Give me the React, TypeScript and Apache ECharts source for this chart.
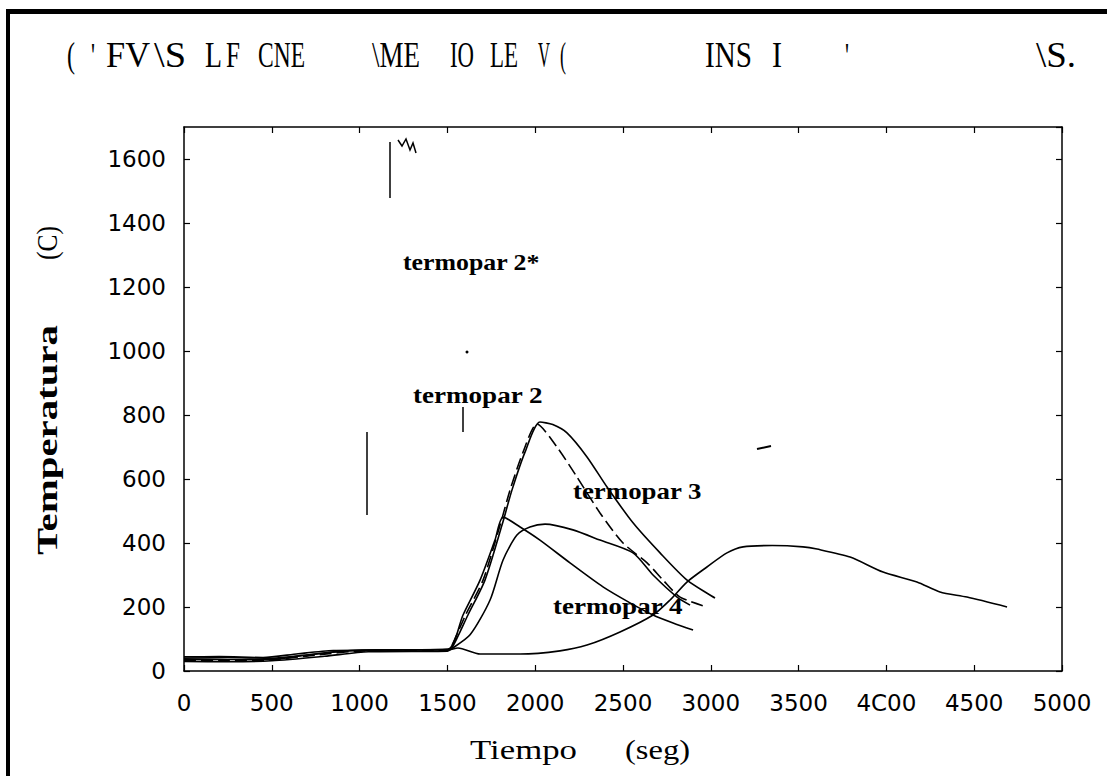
import React, { useEffect, useRef } from "react";
import * as echarts from "echarts";

// ---- axis ticks ----
const xTickValues = [0, 500, 1000, 1500, 2000, 2500, 3000, 3500, 4000, 4500, 5000];
const xTickLabels = ["0", "500", "1000", "1500", "2000", "2500", "3000", "3500", "4C00", "4500", "5000"];
const yTickValues = [0, 200, 400, 600, 800, 1000, 1200, 1400, 1600];

// ---- series (tiempo [s], temperatura [C]) ----
const tc2star = [
  [0, 40], [250, 42], [500, 40], [700, 50], [900, 62], [1200, 66], [1500, 68], [1526, 72],
  [1617, 175], [1714, 284], [1811, 456], [1868, 566], [1942, 684], [2027, 778], [2100, 770],
  [2181, 744], [2295, 669], [2409, 575], [2557, 463], [2711, 369], [2865, 284], [3024, 228],
];
const tc2 = [
  [0, 33], [250, 32], [500, 35], [750, 50], [1000, 62], [1500, 64], [1515, 68],
  [1606, 178], [1703, 284], [1800, 456], [1857, 566], [1931, 684], [2010, 772], [2124, 700],
  [2238, 606], [2369, 494], [2500, 400], [2637, 338], [2728, 284], [2825, 231], [2978, 200],
];
const tc3 = [
  [0, 44], [200, 45], [450, 42], [650, 54], [850, 64], [1200, 66], [1503, 68],
  [1589, 175], [1686, 284], [1771, 409], [1817, 481], [1914, 450], [2027, 409], [2198, 338],
  [2386, 263], [2540, 213], [2671, 175], [2785, 150], [2899, 128],
];
const tc4 = [
  [0, 30], [250, 29], [500, 32], [800, 46], [1050, 60], [1500, 62], [1515, 66],
  [1629, 113], [1743, 222], [1817, 347], [1896, 425], [1970, 450], [2056, 459], [2215, 441],
  [2369, 409], [2557, 369], [2671, 300], [2808, 231], [2882, 206],
];
const tc5 = [
  [0, 37], [250, 36], [490, 36], [700, 50], [950, 64], [1100, 66], [1503, 66], [1560, 72],
  [1686, 53], [1914, 53], [2141, 63], [2295, 81], [2483, 122], [2671, 175], [2768, 222],
  [2864, 278], [2978, 325], [3092, 369], [3184, 388], [3350, 392], [3525, 388], [3605, 381],
  [3793, 356], [3981, 309], [4174, 278], [4305, 247], [4459, 231], [4687, 200],
];
const seriesNames = ["termopar 2*", "termopar 2", "termopar 4", "termopar 3", "termopar 5"];

// ---- texts ----
const titleTokens = ["(", "'", "FV", "\\S", "L", "F", "CNE", "\\ME", "IO", "LE", "V", "(", "INS", "I", "'", "\\S."];
const curveLabels = ["termopar 2*", "termopar 2", "termopar 3", "termopar 4"];
const yName = ["Temperatura", "(C)"];
const xName = ["Tiempo", "(seg)"];

const SERIF = '"Liberation Serif", "Times New Roman", serif';

function measure(text: string, font: string): number {
  const c = document.createElement("canvas").getContext("2d");
  if (!c) return text.length * 10;
  c.font = font;
  return c.measureText(text).width || 1;
}

function fitText(text: string, x0: number, x1: number, y: number, size: number, weight: string) {
  const w = measure(text, `${weight} ${size}px ${SERIF}`);
  return {
    type: "text",
    x: x0,
    y,
    scaleX: (x1 - x0) / w,
    silent: true,
    style: {
      text,
      fontSize: size,
      fontFamily: SERIF,
      fontWeight: weight,
      fill: "#000",
      align: "left",
      verticalAlign: "middle",
    },
  };
}

function rotText(text: string, cx: number, y0: number, y1: number, size: number, weight: string) {
  const w = measure(text, `${weight} ${size}px ${SERIF}`);
  return {
    type: "text",
    x: cx,
    y: (y0 + y1) / 2,
    rotation: Math.PI / 2,
    scaleX: Math.abs(y1 - y0) / w,
    silent: true,
    style: {
      text,
      fontSize: size,
      fontFamily: SERIF,
      fontWeight: weight,
      fill: "#000",
      align: "center",
      verticalAlign: "middle",
    },
  };
}

export default function App() {
  const ref = useRef<HTMLDivElement>(null);

  useEffect(() => {
    if (!ref.current) return;
    const chart = echarts.init(ref.current, undefined, { renderer: "svg" });

    const titlePos = [
      [67, 75], [91, 95], [106, 150], [154, 186], [205, 222], [226, 240], [258, 305],
      [372, 420], [450, 474], [490, 518], [538, 550], [560, 566], [705, 752], [772, 782],
      [845, 849], [1036, 1076],
    ];
    const labelPos = [
      [403, 540, 262], [413, 543, 395], [573, 702, 491], [553, 683, 606],
    ];
    const black = "#000";
    const mark = { stroke: black, lineWidth: 1.5 };

    const graphic: any[] = [
      { type: "rect", shape: { x: 6, y: 9, width: 1101, height: 5 }, style: { fill: black }, silent: true },
      { type: "rect", shape: { x: 6, y: 9, width: 4, height: 767 }, style: { fill: black }, silent: true },
      ...titleTokens.map((t, i) => fitText(t, titlePos[i][0], titlePos[i][1], 55, 36, "normal")),
      ...curveLabels.map((t, i) => fitText(t, labelPos[i][0], labelPos[i][1], labelPos[i][2], 23, "bold")),
      rotText(yName[0], 47, 555, 325, 29, "bold"),
      rotText(yName[1], 47, 260, 226, 29, "normal"),
      fitText(xName[0], 470, 577, 750, 28, "normal"),
      fitText(xName[1], 625, 690, 750, 28, "normal"),
      // scan artefacts
      { type: "line", shape: { x1: 390, y1: 142, x2: 390, y2: 198 }, style: mark, silent: true },
      { type: "polyline", shape: { points: [[398, 140], [402, 146], [406, 139], [410, 150], [413, 143], [416, 153]] }, style: { ...mark, fill: "none" }, silent: true },
      { type: "line", shape: { x1: 367, y1: 432, x2: 367, y2: 515 }, style: mark, silent: true },
      { type: "line", shape: { x1: 463, y1: 407, x2: 463, y2: 432 }, style: mark, silent: true },
      { type: "circle", shape: { cx: 467, cy: 352, r: 1.5 }, style: { fill: black }, silent: true },
      { type: "line", shape: { x1: 757, y1: 449, x2: 771, y2: 446 }, style: { stroke: black, lineWidth: 2 }, silent: true },
    ];

    const axisCommon = {
      type: "value",
      axisLine: { show: true, onZero: false, lineStyle: { color: black, width: 1.5 } },
      axisTick: { show: true, inside: true, length: 6, lineStyle: { color: black, width: 1.2 } },
      splitLine: { show: false },
    };
    const labelFont = { color: black, fontFamily: '"DejaVu Sans", sans-serif', fontSize: 23 };

    const datasets = [tc2star, tc2, tc3, tc4, tc5];

    chart.setOption({
      animation: false,
      backgroundColor: "#fff",
      grid: { left: 184, right: 45, top: 127, bottom: 105, containLabel: false },
      xAxis: [
        {
          ...axisCommon,
          position: "bottom",
          min: xTickValues[0],
          max: xTickValues[xTickValues.length - 1],
          interval: 500,
          axisLabel: {
            ...labelFont,
            margin: 20,
            formatter: (v: number) => {
              const i = xTickValues.indexOf(v);
              return i >= 0 ? xTickLabels[i] : "";
            },
          },
        },
        {
          ...axisCommon,
          position: "top",
          min: xTickValues[0],
          max: xTickValues[xTickValues.length - 1],
          interval: 500,
          axisLabel: { show: false },
        },
      ],
      yAxis: [
        {
          ...axisCommon,
          position: "left",
          min: 0,
          max: 1700,
          interval: 200,
          axisLabel: {
            ...labelFont,
            margin: 18,
            showMaxLabel: false,
            formatter: (v: number) => (yTickValues.indexOf(v) >= 0 ? String(v) : ""),
          },
        },
        {
          ...axisCommon,
          position: "right",
          min: 0,
          max: 1700,
          interval: 200,
          axisLabel: { show: false },
        },
      ],
      series: datasets.map((d, i) => ({
        name: seriesNames[i],
        type: "line",
        data: d,
        xAxisIndex: 0,
        yAxisIndex: 0,
        showSymbol: false,
        symbol: "none",
        smooth: 0.25,
        lineStyle: { color: black, width: 1.6, type: i === 1 ? [12, 5] : "solid" },
        silent: true,
      })),
      graphic,
    });

    return () => chart.dispose();
  }, []);

  return (
    <div
      ref={ref}
      style={{ position: "absolute", left: 0, top: 0, width: 1107, height: 776, background: "#fff" }}
    />
  );
}
